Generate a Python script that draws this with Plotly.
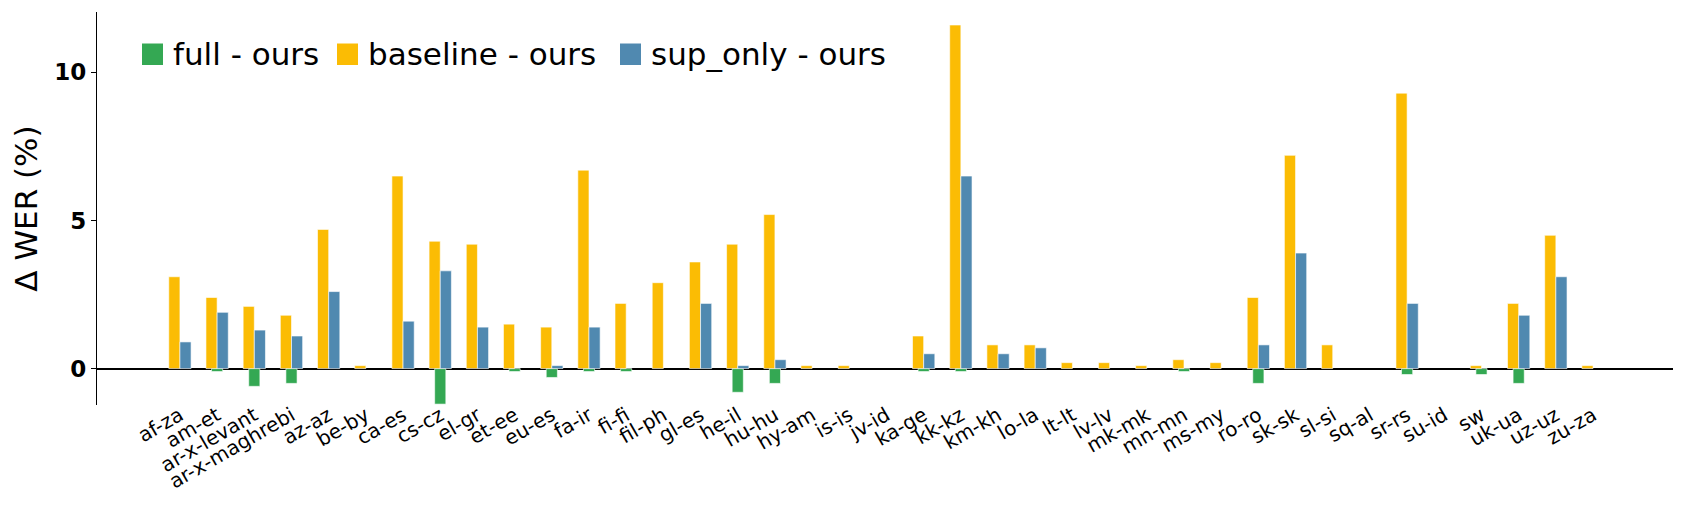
import plotly.graph_objects as go

langs = ["af-za", "am-et", "ar-x-levant", "ar-x-maghrebi", "az-az", "be-by", "ca-es",
         "cs-cz", "el-gr", "et-ee", "eu-es", "fa-ir", "fi-fi", "fil-ph", "gl-es", "he-il",
         "hu-hu", "hy-am", "is-is", "jv-id", "ka-ge", "kk-kz", "km-kh", "lo-la", "lt-lt",
         "lv-lv", "mk-mk", "mn-mn", "ms-my", "ro-ro", "sk-sk", "sl-si", "sq-al", "sr-rs",
         "su-id", "sw", "uk-ua", "uz-uz", "zu-za"]

full_minus_ours = [0, -0.1, -0.6, -0.5, 0, 0, 0, -1.2, 0, -0.1, -0.3, -0.1, -0.1, 0, 0, -0.8,
                   -0.5, 0, 0, 0, -0.1, -0.1, 0, 0, 0, 0, 0, -0.1, 0, -0.5, 0, 0, 0, -0.2,
                   0, -0.2, -0.5, 0, 0]
baseline_minus_ours = [3.1, 2.4, 2.1, 1.8, 4.7, 0.1, 6.5, 4.3, 4.2, 1.5, 1.4, 6.7, 2.2, 2.9, 3.6, 4.2,
                       5.2, 0.1, 0.1, 0, 1.1, 11.6, 0.8, 0.8, 0.2, 0.2, 0.1, 0.3, 0.2, 2.4, 7.2, 0.8,
                       0, 9.3, 0, 0.1, 2.2, 4.5, 0.1]
sup_only_minus_ours = [0.9, 1.9, 1.3, 1.1, 2.6, 0, 1.6, 3.3, 1.4, 0, 0.1, 1.4, 0, 0, 2.2, 0.1,
                       0.3, 0, 0, 0, 0.5, 6.5, 0.5, 0.7, 0, 0, 0, 0, 0, 0.8, 3.9, 0,
                       0, 2.2, 0, 0, 1.8, 3.1, 0]

series = [
    ("full - ours", full_minus_ours, "#34A853", -0.15),
    ("baseline - ours", baseline_minus_ours, "#FBBC04", -0.3),
    ("sup_only - ours", sup_only_minus_ours, "#5089B0", 0.0),
]

FONT = "DejaVu Sans"
# the page body has an 8px margin, so the figure is a bit smaller than the window
W, H = 1680, 508
ML, MR, MT, MB = 89, 15, 4, 111

fig = go.Figure()
for name, vals, color, off in series:
    fig.add_trace(go.Bar(
        x=langs, y=[v if v != 0 else None for v in vals], name=name,
        width=0.3, offset=off, marker_color=color,
        marker_line=dict(color="white", width=0.6), showlegend=False,
    ))

# legend drawn by hand (big square patches like matplotlib), positions in figure px
pw, ph = W - ML - MR, H - MT - MB
def px_x(p):
    return (p - ML) / pw
def px_y(p):
    return (H - MB - p) / ph

legend_pos = [(134, 163), (329, 358), (612, 641)]
for (name, vals, color, off), (sx, tx) in zip(series, legend_pos):
    fig.add_shape(type="rect", xref="paper", yref="paper",
                  x0=px_x(sx), x1=px_x(sx + 21), y0=px_y(57), y1=px_y(35.5),
                  fillcolor=color, line=dict(width=0))
    fig.add_annotation(xref="paper", yref="paper", x=px_x(tx), y=px_y(46),
                       text=name, showarrow=False, xanchor="left", yanchor="middle",
                       font=dict(family=FONT, size=31, color="black"))

fig.update_layout(
    width=W, height=H, barmode="overlay",
    margin=dict(l=ML, r=MR, t=MT, b=MB),
    plot_bgcolor="white", paper_bgcolor="white",
    font=dict(family=FONT, color="black"),
)
fig.update_xaxes(
    range=[-2.23, 40.15], showgrid=False, showline=False, ticks="", zeroline=False,
    automargin=False, tickangle=-30, ticklabelstandoff=-6,
    tickfont=dict(family=FONT, size=20, color="black"),
)
fig.update_yaxes(
    range=[-1.23, 12.04], tickvals=[0, 5, 10], showgrid=False, automargin=False,
    showline=True, linecolor="black", linewidth=1.3,
    ticks="outside", ticklen=5, tickwidth=1.3, tickcolor="black",
    tickfont=dict(family=FONT, size=23, color="black", weight="bold"),
    zeroline=True, zerolinecolor="black", zerolinewidth=1.8,
    title=dict(text="Δ WER (%)", font=dict(family=FONT, size=31, color="black"), standoff=10),
)

fig.write_html("out.html")
